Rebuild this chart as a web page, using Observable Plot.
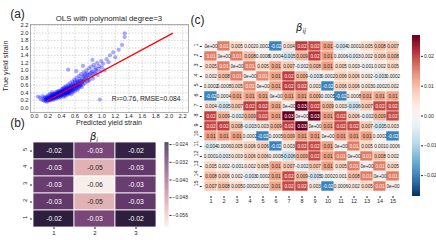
<!DOCTYPE html>
<html><head><meta charset="utf-8">
<script src="https://cdn.jsdelivr.net/npm/d3@7"></script>
<script src="https://cdn.jsdelivr.net/npm/@observablehq/plot@0.6"></script>
<style>
body{margin:0;background:#fff;font-family:"Liberation Sans",Arial,sans-serif;}
#wrap{position:relative;width:436px;height:240px;overflow:hidden;background:#fff;}
.lab{position:absolute;white-space:nowrap;line-height:1;color:#262626;}
.box{position:absolute;}
</style></head><body><div id="wrap"></div>
<script>
// ---------- DATA ----------
// (a) scatter: [predicted, true] yield strain
const scatterPoints = [
[0.05,0.3],[0.08,0.27],[0.1,0.22],[0.12,0.31],[0.13,0.2],[0.14,0.26],
[0.15,0.18],[0.16,0.22],[0.17,0.2],[0.18,0.25],[0.18,0.16],[0.19,0.22],[0.2,0.28],[0.2,0.19],[0.21,0.24],[0.22,0.3],[0.22,0.21],[0.23,0.26],[0.24,0.33],[0.24,0.2],[0.25,0.27],[0.25,0.23],[0.26,0.31],[0.26,0.36],[0.27,0.24],[0.27,0.28],[0.28,0.33],[0.28,0.21],[0.29,0.3],[0.29,0.38],[0.3,0.26],[0.3,0.34],[0.31,0.29],[0.31,0.41],[0.32,0.24],[0.32,0.36],[0.33,0.31],[0.33,0.27],[0.34,0.39],[0.34,0.33],[0.35,0.29],[0.35,0.44],
[0.36,0.36],[0.36,0.31],[0.37,0.42],[0.37,0.27],[0.38,0.38],[0.38,0.34],[0.39,0.46],[0.39,0.3],[0.4,0.4],[0.4,0.36],[0.41,0.5],[0.41,0.33],[0.42,0.43],[0.42,0.38],[0.43,0.29],[0.43,0.47],[0.44,0.41],[0.44,0.54],[0.45,0.36],[0.45,0.45],[0.46,0.5],[0.46,0.32],[0.47,0.43],[0.47,0.58],[0.48,0.39],[0.48,0.48],[0.49,0.53],[0.49,0.35],[0.5,0.45],[0.5,0.62],[0.51,0.41],[0.51,0.51],[0.52,0.56],[0.52,0.38],[0.53,0.47],[0.53,0.66],[0.54,0.43],[0.54,0.53],[0.55,0.59],[0.55,0.36],
[0.56,0.49],[0.56,0.7],[0.57,0.55],[0.57,0.42],[0.58,0.61],[0.58,0.5],[0.59,0.75],[0.6,0.56],[0.6,0.45],[0.61,0.66],[0.62,0.52],[0.62,0.8],[0.63,0.6],[0.64,0.7],[0.64,0.48],[0.65,0.63],[0.66,0.85],[0.66,0.56],[0.67,0.72],[0.68,0.64],[0.69,0.9],[0.7,0.68],[0.7,0.55],[0.71,0.78],[0.72,0.62],[0.73,0.95],[0.73,0.72],[0.74,0.84],[0.75,0.66],
[0.76,0.78],[0.77,1.0],[0.78,0.7],[0.79,0.88],[0.8,0.8],[0.81,1.05],[0.82,0.75],[0.83,0.93],[0.84,1.1],[0.85,0.85],[0.86,0.98],[0.87,0.78],[0.88,1.15],[0.9,0.92],[0.91,1.02],[0.93,1.2],[0.94,0.88],[0.95,1.05],[0.96,1.12],[0.98,0.97],[0.99,1.25],[1.0,1.08],[1.02,1.18],[1.04,1.0],[0.97,0.22],
[1.07,1.3],[1.1,1.22],[1.12,1.4],[1.17,1.48],[1.2,1.35],[1.25,1.55],[1.3,1.68],[1.34,1.89],[1.34,1.99],[0.86,1.28],[0.5,1.02],[0.72,1.12],[0.62,0.98],
[0.2,0.23],[0.23,0.22],[0.26,0.26],[0.29,0.27],[0.31,0.33],[0.33,0.35],[0.35,0.37],[0.37,0.35],[0.39,0.4],[0.41,0.39],[0.43,0.42],[0.45,0.41],[0.47,0.47],[0.49,0.44],[0.51,0.48],[0.53,0.52],[0.55,0.5],[0.57,0.58],[0.59,0.54],[0.61,0.6],[0.63,0.56],[0.65,0.68],[0.67,0.6],[0.69,0.72],[0.28,0.29],[0.32,0.3],[0.36,0.4],[0.4,0.44],[0.44,0.38],[0.48,0.42],[0.52,0.46],
[0.17,0.24],[0.19,0.27],[0.21,0.2],[0.22,0.26],[0.24,0.28],[0.25,0.32],[0.27,0.33],[0.28,0.25],[0.3,0.3],[0.3,0.38],[0.32,0.33],[0.33,0.42],[0.34,0.28],[0.35,0.34],[0.36,0.45],[0.37,0.39],[0.38,0.3],[0.39,0.43],[0.4,0.33],[0.41,0.45],[0.42,0.35],[0.42,0.52],[0.43,0.4],[0.44,0.48],[0.45,0.33],[0.46,0.44],[0.46,0.55],[0.47,0.38],[0.48,0.52],[0.49,0.4],[0.5,0.5],[0.5,0.38],[0.51,0.57],[0.52,0.43],[0.53,0.5],[0.54,0.6],[0.55,0.45],[0.56,0.55],[0.57,0.65],[0.58,0.46],[0.59,0.6],[0.6,0.7],[0.61,0.5],[0.62,0.62],[0.63,0.72],[0.64,0.58],[0.65,0.52],[0.66,0.66],[0.67,0.78],[0.68,0.58],[0.7,0.62],[0.71,0.7],[0.72,0.85],[0.74,0.74],[0.75,0.9],[0.77,0.82],[0.78,0.92],[0.8,0.72],[0.82,0.88],[0.85,0.95],[0.88,0.9],[0.9,1.08],[0.92,0.98],[0.2,0.33],[0.23,0.37],[0.26,0.41],[0.15,0.28],[0.18,0.3]
];
const fitLineX = [0.19, 2.05];
const fitLineY = [0.19, 1.99];
const axisTicks = [0,0.2,0.4,0.6,0.8,1.0,1.2,1.4,1.6,1.8,2.0,2.2];
const annotText = "R²=0.76, RMSE=0.084";

// (b) beta_i, rows listed top (5) to bottom (1), columns 1..3
const betaIRows = [5,4,3,2,1];
const betaICols = [1,2,3];
const betaI = [
  [-0.024,-0.033,-0.024],
  [-0.030,-0.052,-0.030],
  [-0.031,-0.061,-0.031],
  [-0.030,-0.052,-0.030],
  [-0.023,-0.033,-0.023]
];
const betaIDomain = [-0.0613,-0.0232];
const betaICbarTicks = [-0.024,-0.032,-0.040,-0.048,-0.056];

// (c) beta_ij 15x15, rows 1 (top) .. 15
const betaIJIndex = [1,2,3,4,5,6,7,8,9,10,11,12,13,14,15];
const betaIJ = [
[0,0.014,0.005,0.002,0.0002,-0.018,0.004,0.019,0.018,0.011,-0.004,0.0001,0.005,0.008,0.007],
[0.014,0,0.014,0.008,0.0008,0.0004,-0.005,0.009,0.019,0.011,0.0006,-0.003,0.002,0.006,0.008],
[0.005,0.014,0,0.014,0.005,0.0105,0.007,-0.002,0.008,0.011,0.005,0.003,-0.001,0.002,0.005],
[0.002,0.008,0.014,0,0.013,0.0105,0.019,0.009,-0.003,0.0002,0.006,0.006,0.002,-0.003,0.0002],
[0.0002,0.0008,0.005,0.013,0,0.0105,0.019,0.018,0.003,-0.018,0.006,0.006,0.003,0.0002,0.002],
[-0.018,0.0004,0.0105,0.0105,0.0105,0,0.0105,0.011,0.009,0.0005,-0.018,0.0008,0.0105,0.0105,0.0105],
[0.004,-0.005,0.007,0.019,0.019,0.0105,0,0.027,0.019,0.009,0.003,-0.006,0.007,0.018,0.018],
[0.019,0.009,-0.002,0.009,0.018,0.011,0.027,0,0.027,0.011,0.018,0.006,-0.002,0.009,0.018],
[0.018,0.019,0.008,-0.003,0.003,0.009,0.019,0.027,0,0.011,0.018,0.018,0.007,-0.005,0.003],
[0.011,0.011,0.011,0.0002,-0.018,0.0005,0.009,0.011,0.011,0,0.011,0.011,0.011,0.0002,-0.018],
[-0.004,0.0006,0.005,0.006,0.006,-0.018,0.003,0.018,0.018,0.011,0,0.014,0.005,0.001,0.0006],
[0.0001,-0.003,0.003,0.006,0.006,0.0008,-0.006,0.009,0.018,0.011,0.014,0,0.014,0.008,0.002],
[0.005,0.002,-0.001,0.002,0.005,0.0105,0.007,-0.002,0.007,0.011,0.005,0.014,0,0.014,0.005],
[0.008,0.006,0.002,-0.003,0.0002,0.0105,0.018,0.009,-0.005,0.0002,0.001,0.008,0.014,0,0.014],
[0.007,0.008,0.005,0.0002,0.002,0.0105,0.018,0.018,0.003,-0.018,0.0006,0.002,0.005,0.014,0]
];
const betaIJDomain = [-0.027,0.027];
const betaIJCbarTicks = [0.02,0.01,0,-0.01,-0.02];

// ---------- HELPERS ----------
const FONT = '"Liberation Sans", Arial, sans-serif';
const DARK_TEXT = "#262626";
const wrap = document.getElementById("wrap");
function put(el, left, top){ const d=document.createElement("div"); d.className="box"; d.style.left=left+"px"; d.style.top=top+"px"; d.appendChild(el); wrap.appendChild(d); }
function label(html, cx, cy, size, extra, fam){
  const d=document.createElement("div"); d.className="lab"; d.innerHTML=html;
  d.style.fontSize=size+"px"; d.style.left=cx+"px"; d.style.top=cy+"px";
  if (fam) d.style.fontFamily=fam;
  d.style.transform="translate(-50%,-50%) "+(extra||""); wrap.appendChild(d);
}
function cubehelix(x){ // seaborn cubehelix_palette formula
  const start=0, rot=0.4, gamma=1, hue=0.8;
  const xg=Math.pow(x,gamma), a=hue*xg*(1-xg)/2, phi=2*Math.PI*(start/3+rot*x);
  const c=Math.cos(phi), s=Math.sin(phi);
  const cl=v=>Math.round(255*Math.max(0,Math.min(1,v)));
  return d3.rgb(cl(xg+a*(-0.14861*c+1.78277*s)), cl(xg+a*(-0.29227*c-0.90649*s)), cl(xg+a*(1.97294*c))).formatHex();
}
const LIGHT=0.95, DARKX=0.15;
const helixInterp = t => cubehelix(LIGHT+(DARKX-LIGHT)*t);
const rdbuR = t => d3.interpolateRdBu(1-t);
function relLum(col){ const c=d3.rgb(col); const f=u=>{u/=255; return u<=0.03928?u/12.92:Math.pow((u+0.055)/1.055,2.4);}; return 0.2126*f(c.r)+0.7152*f(c.g)+0.0722*f(c.b); }
const norm = (v,[a,b]) => Math.max(0,Math.min(1,(v-a)/(b-a)));
const hyph = s => s.replace(/\u2212/g,"-");

// ---------- (a) SCATTER ----------
const pts = scatterPoints.map(([x,y])=>({x,y}));
const fitLine = fitLineX.map((x,i)=>({x, y: fitLineY[i]}));
const A_W=215, A_H=128;
const plotA = Plot.plot({
  width:A_W, height:A_H, marginLeft:30, marginRight:A_W-188, marginTop:24, marginBottom:A_H-112,
  style:{background:"transparent", fontFamily:FONT, fontSize:"5.8px", color:DARK_TEXT},
  x:{domain:[-0.06,2.288], ticks:axisTicks, tickFormat:d3.format(".1f"), tickSize:1, tickPadding:0, label:null},
  y:{domain:[-0.126,2.227], ticks:axisTicks, tickFormat:d3.format(".1f"), tickSize:1, tickPadding:0.5, label:null},
  marks:[
    Plot.gridX(axisTicks,{stroke:"#bdbdbd", strokeOpacity:1, strokeWidth:0.6, strokeDasharray:"1.5,1.5"}),
    Plot.gridY(axisTicks,{stroke:"#bdbdbd", strokeOpacity:1, strokeWidth:0.6, strokeDasharray:"1.5,1.5"}),
    Plot.dot(pts,{x:"x", y:"y", r:2.1, fill:"#0000ff", fillOpacity:0.33, stroke:null}),
    Plot.line(fitLine,{x:"x", y:"y", stroke:"#ff0000", strokeWidth:1.2}),
    Plot.frame({stroke:"#9a9a9a", strokeWidth:0.8}),
    Plot.axisX(axisTicks,{anchor:"bottom", stroke:"none", tickSize:1, tickPadding:0, tickFormat:d3.format(".1f"), label:null, fontSize:5.8, fill:DARK_TEXT}),
    Plot.axisY(axisTicks,{anchor:"left", stroke:"none", tickSize:1.5, tickPadding:0.5, tickFormat:d3.format(".1f"), label:null, fontSize:5.8, fill:DARK_TEXT}),
    Plot.text([annotText],{x:2.17, y:0.24, text:d=>d, textAnchor:"end", fontSize:6.8, fill:DARK_TEXT})
  ]
});
put(plotA,0,0);
label("(a)",17.5,13.5,12);
label("OLS with polynomial degree=3",109,18.5,7.8);
label("True yield strain",6,66,7.2,"rotate(-90deg)");
label("Predicted yield strain",109,124.3,7.1);

// ---------- (b) beta_i ----------
const cellsB = [];
betaIRows.forEach((r,i)=>betaICols.forEach((c,j)=>cellsB.push({row:r, col:c, v:betaI[i][j]})));
const isDarkB = d => relLum(helixInterp(norm(d.v,betaIDomain))) < 0.408;
const colorB = {type:"linear", domain:betaIDomain, interpolate:helixInterp, clamp:true};
const B_W=162, B_H=110;
const plotB = Plot.plot({
  width:B_W, height:B_H, marginLeft:32, marginRight:B_W-157, marginTop:12, marginBottom:B_H-97,
  style:{background:"transparent", fontFamily:FONT, fontSize:"6px", color:DARK_TEXT},
  x:{type:"band", domain:betaICols, padding:0},
  y:{type:"band", domain:betaIRows, padding:0},
  color:colorB,
  marks:[
    Plot.cell(cellsB,{x:"col", y:"row", fill:"v", stroke:"#ffffff", strokeWidth:0.8, inset:0}),
    Plot.text(cellsB,{x:"col", y:"row", text:d=>hyph(d3.format(".2f")(d.v)), fill:"white", fontSize:6.8, filter:isDarkB}),
    Plot.text(cellsB,{x:"col", y:"row", text:d=>hyph(d3.format(".2f")(d.v)), fill:DARK_TEXT, fontSize:6.8, filter:d=>!isDarkB(d)}),
    Plot.axisX({anchor:"bottom", tickSize:2, tickPadding:1.5, label:null, fontSize:6}),
    Plot.axisY({anchor:"left", tickSize:2, tickFormat:()=>"", label:null}),
    Plot.text(betaIRows,{y:d=>d, text:d=>String(d), frameAnchor:"left", dx:-7, rotate:-90, fontSize:6, fill:DARK_TEXT})
  ]
});
put(plotB,0,130);
label("(b)",17.5,122.5,12);
label('<i>β</i><sub style="font-size:0.65em;vertical-align:-0.25em"><i>i</i></sub>',94,137.5,10,"","DejaVu Sans");

// colorbar (b)
const stepsB = d3.range(120).map(i=>{const a=betaIDomain[0], s=(betaIDomain[1]-a)/120; return {y1:a+i*s, y2:a+(i+1)*s, v:a+(i+0.5)*s};});
const CB_W=57;
const cbB = Plot.plot({
  width:CB_W, height:B_H, marginLeft:6.5, marginRight:CB_W-10.5, marginTop:12.3, marginBottom:B_H-96.7,
  style:{background:"transparent", fontFamily:FONT, fontSize:"5px", color:DARK_TEXT},
  x:{domain:[0,1], axis:null}, y:{domain:betaIDomain}, color:colorB,
  marks:[
    Plot.rect(stepsB,{x1:0, x2:1, y1:"y1", y2:"y2", fill:"v"}),
    Plot.axisY(betaICbarTicks,{anchor:"right", tickSize:2, tickPadding:1.5, tickFormat:d3.format(".3f"), label:null, fontSize:5})
  ]
});
put(cbB,158,130);

// ---------- (c) beta_ij ----------
const cellsC = [];
betaIJIndex.forEach((r,i)=>betaIJIndex.forEach((c,j)=>cellsC.push({row:r, col:c, v:betaIJ[i][j]})));
const fmtC = v => v===0 ? "0e+00" : hyph(d3.format(".1~g")(v));
const isDarkC = d => relLum(rdbuR(norm(d.v,betaIJDomain))) < 0.408;
const colorC = {type:"linear", domain:betaIJDomain, interpolate:rdbuR, clamp:true};
const C_L=186, C_W=222, C_H=240;
const plotC = Plot.plot({
  width:C_W, height:C_H, marginLeft:201.8-C_L, marginRight:C_L+C_W-400.6, marginTop:35, marginBottom:C_H-196,
  style:{background:"transparent", fontFamily:FONT, fontSize:"5.5px", color:DARK_TEXT},
  x:{type:"band", domain:betaIJIndex, padding:0},
  y:{type:"band", domain:betaIJIndex, padding:0},
  color:colorC,
  marks:[
    Plot.cell(cellsC,{x:"col", y:"row", fill:"v", stroke:"#ffffff", strokeWidth:0.5}),
    Plot.text(cellsC,{x:"col", y:"row", text:d=>fmtC(d.v), fill:"white", fontSize:4.7, filter:isDarkC}),
    Plot.text(cellsC,{x:"col", y:"row", text:d=>fmtC(d.v), fill:DARK_TEXT, fontSize:4.7, filter:d=>!isDarkC(d)}),
    Plot.axisX({anchor:"bottom", tickSize:2, tickPadding:1, label:null, fontSize:5.5}),
    Plot.axisY({anchor:"left", tickSize:2, tickFormat:()=>"", label:null}),
    Plot.text(betaIJIndex,{y:d=>d, text:d=>String(d), frameAnchor:"left", dx:-6.5, rotate:-90, fontSize:5.5, fill:DARK_TEXT})
  ]
});
put(plotC,C_L,0);
label("(c)",197.5,19.5,12);
label('<i>β</i><sub style="font-size:0.65em;vertical-align:-0.25em"><i>ij</i></sub>',301,29,10,"","DejaVu Sans");

// colorbar (c)
const stepsC = d3.range(160).map(i=>{const a=betaIJDomain[0], s=(betaIJDomain[1]-a)/160; return {y1:a+i*s, y2:a+(i+1)*s, v:a+(i+0.5)*s};});
const CC_L=405, CC_W=31;
const cbC = Plot.plot({
  width:CC_W, height:C_H, marginLeft:412-CC_L, marginRight:CC_L+CC_W-420, marginTop:35, marginBottom:C_H-196,
  style:{background:"transparent", fontFamily:FONT, fontSize:"5px", color:DARK_TEXT},
  x:{domain:[0,1], axis:null}, y:{domain:betaIJDomain}, color:colorC,
  marks:[
    Plot.rect(stepsC,{x1:0, x2:1, y1:"y1", y2:"y2", fill:"v"}),
    Plot.axisY(betaIJCbarTicks,{anchor:"right", tickSize:2, tickPadding:1.5, tickFormat:d3.format(".2f"), label:null, fontSize:5})
  ]
});
put(cbC,CC_L,0);
</script></body></html>
